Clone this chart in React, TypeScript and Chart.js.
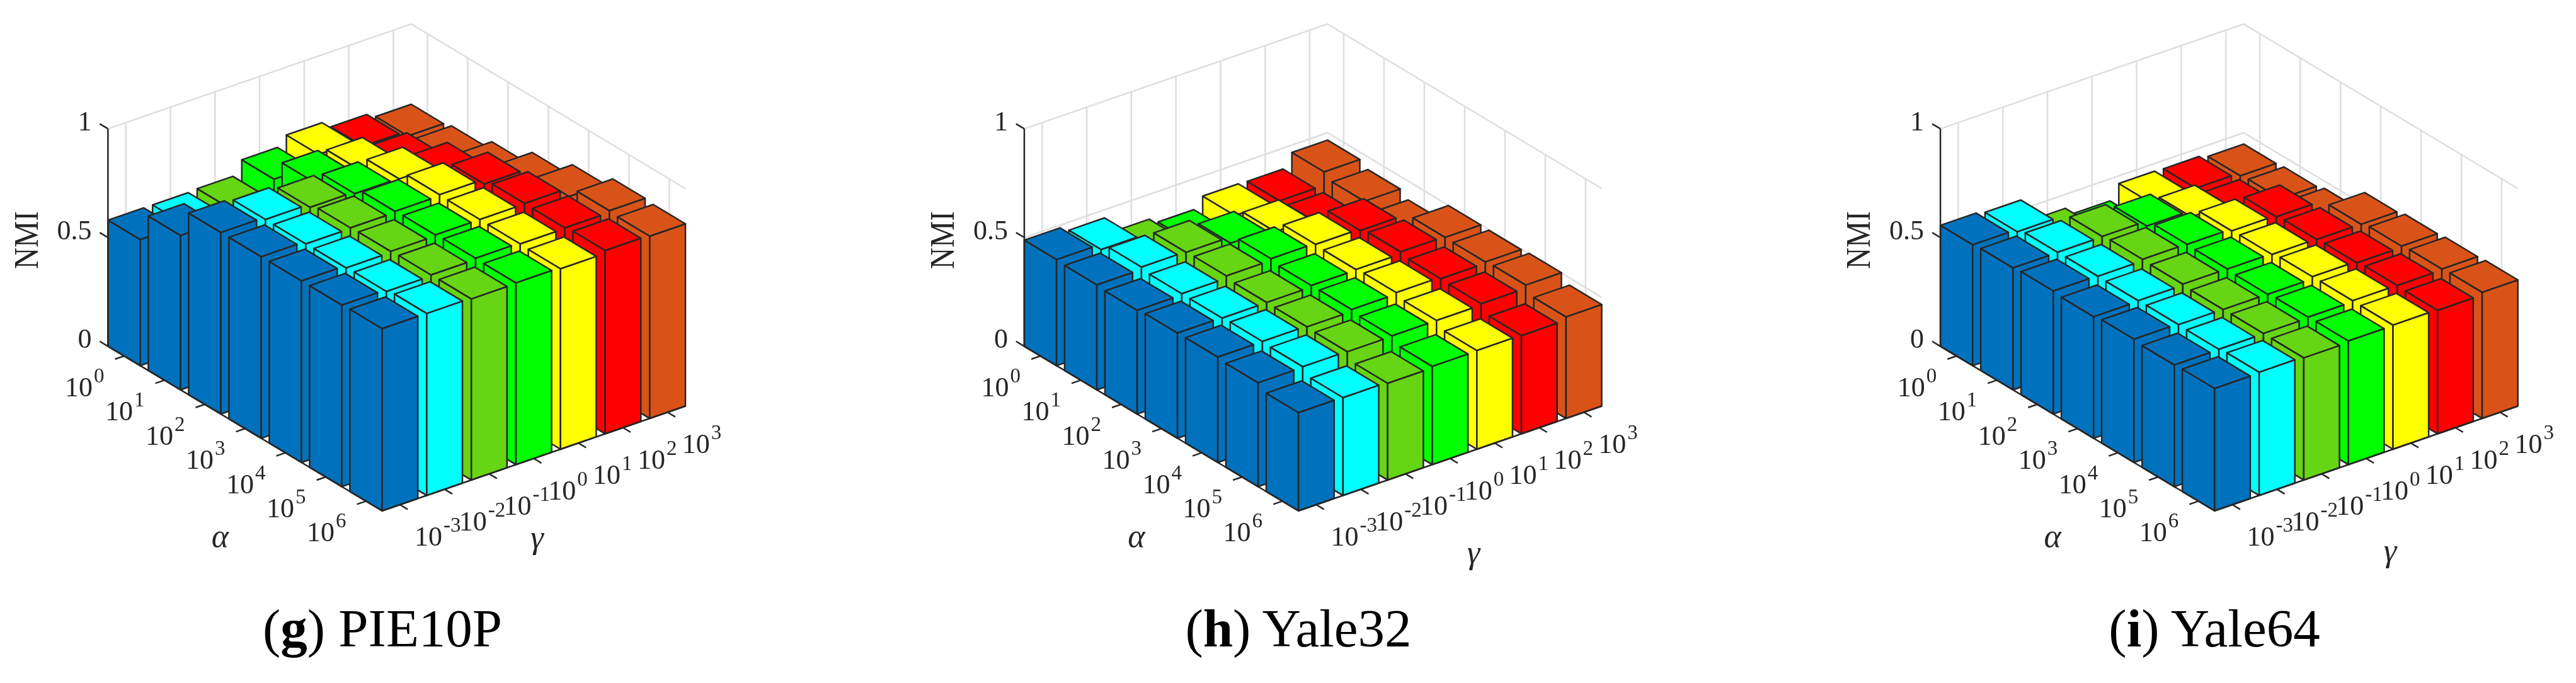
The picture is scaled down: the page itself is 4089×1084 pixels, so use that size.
import React, { useEffect, useRef } from "react";
import { Chart, registerables } from "chart.js";

Chart.register(...registerables);

const alphaLabels = ["10^0", "10^1", "10^2", "10^3", "10^4", "10^5", "10^6"];
const gammaLabels = ["10^-3", "10^-2", "10^-1", "10^0", "10^1", "10^2", "10^3"];
const nmiTicks = [0, 0.5, 1];
const barColors = ["#0072BD", "#00FFFF", "#66D513", "#00FF00", "#FFFF00", "#FF0000", "#D95319"];

// one row per gamma, one value per alpha
const nmiPIE10P = [
  [0.58, 0.71, 0.835, 0.835, 0.835, 0.835, 0.838],
  [0.579, 0.62, 0.824, 0.823, 0.824, 0.827, 0.837],
  [0.583, 0.62, 0.809, 0.826, 0.829, 0.832, 0.833],
  [0.645, 0.742, 0.801, 0.831, 0.834, 0.838, 0.836],
  [0.688, 0.731, 0.798, 0.837, 0.834, 0.833, 0.83],
  [0.655, 0.682, 0.749, 0.815, 0.837, 0.836, 0.843],
  [0.631, 0.643, 0.681, 0.743, 0.798, 0.844, 0.838],
];
const nmiYale32 = [
  [0.488, 0.483, 0.477, 0.484, 0.485, 0.478, 0.452],
  [0.463, 0.494, 0.483, 0.482, 0.486, 0.481, 0.45],
  [0.386, 0.491, 0.494, 0.483, 0.482, 0.479, 0.445],
  [0.359, 0.462, 0.502, 0.49, 0.491, 0.481, 0.452],
  [0.407, 0.444, 0.497, 0.493, 0.498, 0.481, 0.454],
  [0.404, 0.407, 0.49, 0.503, 0.491, 0.487, 0.452],
  [0.466, 0.442, 0.414, 0.499, 0.497, 0.502, 0.467],
];
const nmiYale64 = [
  [0.556, 0.561, 0.566, 0.559, 0.567, 0.56, 0.563],
  [0.545, 0.562, 0.563, 0.562, 0.563, 0.561, 0.567],
  [0.436, 0.564, 0.57, 0.567, 0.562, 0.563, 0.562],
  [0.399, 0.541, 0.568, 0.566, 0.561, 0.567, 0.569],
  [0.465, 0.512, 0.559, 0.562, 0.571, 0.572, 0.571],
  [0.462, 0.467, 0.553, 0.56, 0.564, 0.571, 0.568],
  [0.448, 0.454, 0.467, 0.559, 0.57, 0.576, 0.58],
];

const INK = "#262626";
const GRID = "#dedede";
const SERIF = '"Liberation Serif", "Times New Roman", serif';
const HALF_BAR = 0.4;
const view = {
  corner: { y: 549.6 },
  alphaRun: [435.2, 261.2],
  gammaRun: [481.4, -166.3],
  zRise: 345.2,
};

const frac = (scale: any, v: number) => scale.getDecimalForPixel(scale.getPixelForValue(v));

function project(chart: any, a: number, g: number, z: number, originX: number) {
  const fa = frac(chart.scales.alpha, a);
  const fg = frac(chart.scales.gamma, g);
  const fz = frac(chart.scales.z, z);
  return [
    originX + fa * view.alphaRun[0] + fg * view.gammaRun[0],
    view.corner.y + fa * view.alphaRun[1] + fg * view.gammaRun[1] - fz * view.zRise,
  ];
}

function path(ctx: CanvasRenderingContext2D, pts: number[][], close: boolean) {
  ctx.beginPath();
  pts.forEach((p, k) => (k ? ctx.lineTo(p[0], p[1]) : ctx.moveTo(p[0], p[1])));
  if (close) ctx.closePath();
}

function line(ctx: CanvasRenderingContext2D, p: number[], q: number[]) {
  path(ctx, [p, q], false);
  ctx.stroke();
}

function powerLabel(ctx: CanvasRenderingContext2D, label: string, x: number, y: number) {
  const [base, exp] = label.split("^");
  ctx.textAlign = "left";
  ctx.textBaseline = "alphabetic";
  ctx.fillStyle = INK;
  ctx.font = `44px ${SERIF}`;
  ctx.fillText(base, x, y);
  const w = ctx.measureText(base).width;
  ctx.font = `33px ${SERIF}`;
  ctx.fillText(exp, x + w + 2, y - 22);
}

const bars3d = {
  id: "bars3d",
  beforeDatasetsDraw(chart: any) {
    const o = chart.options.plugins.bars3d;
    const P = (a: number, g: number, z: number) => project(chart, a, g, z, o.originX);
    const ctx: CanvasRenderingContext2D = chart.ctx;
    const aMin = chart.scales.alpha.min, aMax = chart.scales.alpha.max;
    const gMin = chart.scales.gamma.min, gMax = chart.scales.gamma.max;
    ctx.save();
    ctx.strokeStyle = GRID;
    ctx.lineWidth = 2.5;
    ctx.lineCap = "butt";
    gammaLabels.forEach((_, j) => {
      line(ctx, P(aMin, j + 1, 0), P(aMin, j + 1, 1));
      line(ctx, P(aMin, j + 1, 0), P(aMax, j + 1, 0));
    });
    alphaLabels.forEach((_, i) => {
      line(ctx, P(i + 1, gMax, 0), P(i + 1, gMax, 1));
      line(ctx, P(i + 1, gMin, 0), P(i + 1, gMax, 0));
    });
    nmiTicks.forEach((t) => {
      path(ctx, [P(aMin, gMin, t), P(aMin, gMax, t), P(aMax, gMax, t)], false);
      ctx.stroke();
    });
    ctx.restore();
  },
  afterDatasetsDraw(chart: any) {
    const o = chart.options.plugins.bars3d;
    const P = (a: number, g: number, z: number) => project(chart, a, g, z, o.originX);
    const ctx: CanvasRenderingContext2D = chart.ctx;
    const aMin = chart.scales.alpha.min, aMax = chart.scales.alpha.max;
    const gMin = chart.scales.gamma.min, gMax = chart.scales.gamma.max;
    ctx.save();
    ctx.lineWidth = 2.5;
    ctx.strokeStyle = INK;
    ctx.lineJoin = "round";
    const nA = alphaLabels.length;
    const sets = chart.data.datasets;
    for (let i = 0; i < nA; i++) {
      for (let j = sets.length - 1; j >= 0; j--) {
        const ds = sets[j];
        const pt = ds.data[i];
        const a0 = pt.x - HALF_BAR, a1 = pt.x + HALF_BAR;
        const g0 = ds.gammaPos - HALF_BAR, g1 = ds.gammaPos + HALF_BAR;
        const z = pt.y;
        const faces = [
          [P(a0, g0, 0), P(a1, g0, 0), P(a1, g0, z), P(a0, g0, z)],
          [P(a1, g0, 0), P(a1, g1, 0), P(a1, g1, z), P(a1, g0, z)],
          [P(a0, g0, z), P(a1, g0, z), P(a1, g1, z), P(a0, g1, z)],
        ];
        faces.forEach((f) => {
          path(ctx, f, true);
          ctx.fillStyle = ds.backgroundColor;
          ctx.fill();
          ctx.stroke();
        });
      }
    }

    // axes and ticks
    ctx.lineCap = "butt";
    path(ctx, [P(aMin, gMin, 1), P(aMin, gMin, 0), P(aMax, gMin, 0), P(aMax, gMax, 0)], false);
    ctx.stroke();
    const aSpan = aMax - aMin, gSpan = gMax - gMin;
    nmiTicks.forEach((t) => {
      const p = P(aMin, gMin, t);
      line(ctx, p, P(aMin - 0.03 * aSpan, gMin, t));
      ctx.fillStyle = INK;
      ctx.font = `44px ${SERIF}`;
      ctx.textAlign = "right";
      ctx.textBaseline = "alphabetic";
      ctx.fillText(String(t), p[0] - 26, p[1] + 2.5);
    });
    alphaLabels.forEach((label, i) => {
      const p = P(i + 1, gMin, 0);
      line(ctx, p, P(i + 1, gMin - 0.03 * gSpan, 0));
      powerLabel(ctx, label, p[0] - 94, p[1] + 64);
    });
    gammaLabels.forEach((label, j) => {
      const p = P(aMax, j + 1, 0);
      line(ctx, p, P(aMax + 0.028 * aSpan, j + 1, 0));
      powerLabel(ctx, label, p[0] + 23, p[1] + 65);
    });

    // axis titles
    ctx.fillStyle = INK;
    ctx.textAlign = "center";
    ctx.textBaseline = "middle";
    ctx.font = `italic 52px ${SERIF}`;
    ctx.fillText("\u03b1", o.originX + 178, o.alphaTitleY);
    ctx.fillText("\u03b3", o.originX + o.gammaTitle[0], o.gammaTitle[1]);
    ctx.save();
    ctx.translate(o.originX - 126, 381);
    ctx.rotate(-Math.PI / 2);
    ctx.scale(0.875, 1);
    ctx.font = `54px ${SERIF}`;
    ctx.fillText("NMI", 0, 0);
    ctx.restore();
    ctx.restore();
  },
};

const panels = [
  { letter: "g", name: "PIE10P", left: 0, originX: 171.4, gammaTitle: [681, 856], caption: 607, values: nmiPIE10P },
  { letter: "h", name: "Yale32", left: 1363, originX: 262.9, gammaTitle: [713, 880], caption: 2061, values: nmiYale32 },
  { letter: "i", name: "Yale64", left: 2726, originX: 354.1, gammaTitle: [714, 877], caption: 3515, values: nmiYale64 },
];

function Panel({ panel }: { panel: (typeof panels)[number] }) {
  const ref = useRef<HTMLCanvasElement>(null);
  useEffect(() => {
    const chart = new Chart(ref.current as HTMLCanvasElement, {
      type: "scatter",
      data: {
        datasets: gammaLabels.map((label, j) => ({
          label,
          gammaPos: j + 1,
          xAxisID: "alpha",
          yAxisID: "z",
          backgroundColor: barColors[j],
          borderColor: INK,
          pointRadius: 0,
          data: panel.values[j].map((y, i) => ({ x: i + 1, y })),
        })) as any,
      },
      options: {
        animation: false,
        responsive: false,
        devicePixelRatio: 1,
        layout: { padding: 0 },
        scales: {
          alpha: { axis: "x", type: "linear", min: 0.6, max: 7.4, display: false },
          gamma: { axis: "x", type: "linear", min: 0.6, max: 7.4, display: false },
          z: { axis: "y", type: "linear", min: 0, max: 1, display: false },
        },
        plugins: {
          legend: { display: false },
          tooltip: { enabled: false },
          bars3d: { originX: panel.originX, gammaTitle: panel.gammaTitle, alphaTitleY: 854 },
        },
      } as any,
      plugins: [bars3d as any],
    });
    return () => chart.destroy();
  }, [panel]);
  return (
    <canvas
      ref={ref}
      width={1363}
      height={1084}
      style={{ position: "absolute", left: panel.left, top: 0 }}
    />
  );
}

export default function App() {
  return (
    <div style={{ position: "absolute", left: 0, top: 0, width: 4089, height: 1084, overflow: "hidden", background: "#fff" }}>
      {panels.map((p) => (
        <Panel key={p.letter} panel={p} />
      ))}
      {panels.map((p) => (
        <div
          key={p.letter + "c"}
          style={{
            position: "absolute",
            left: p.caption,
            top: 955,
            transform: "translateX(-50%)",
            whiteSpace: "nowrap",
            font: `85px/85px ${SERIF}`,
            color: "#000",
          }}
        >
          (<b>{p.letter}</b>) {p.name}
        </div>
      ))}
    </div>
  );
}
